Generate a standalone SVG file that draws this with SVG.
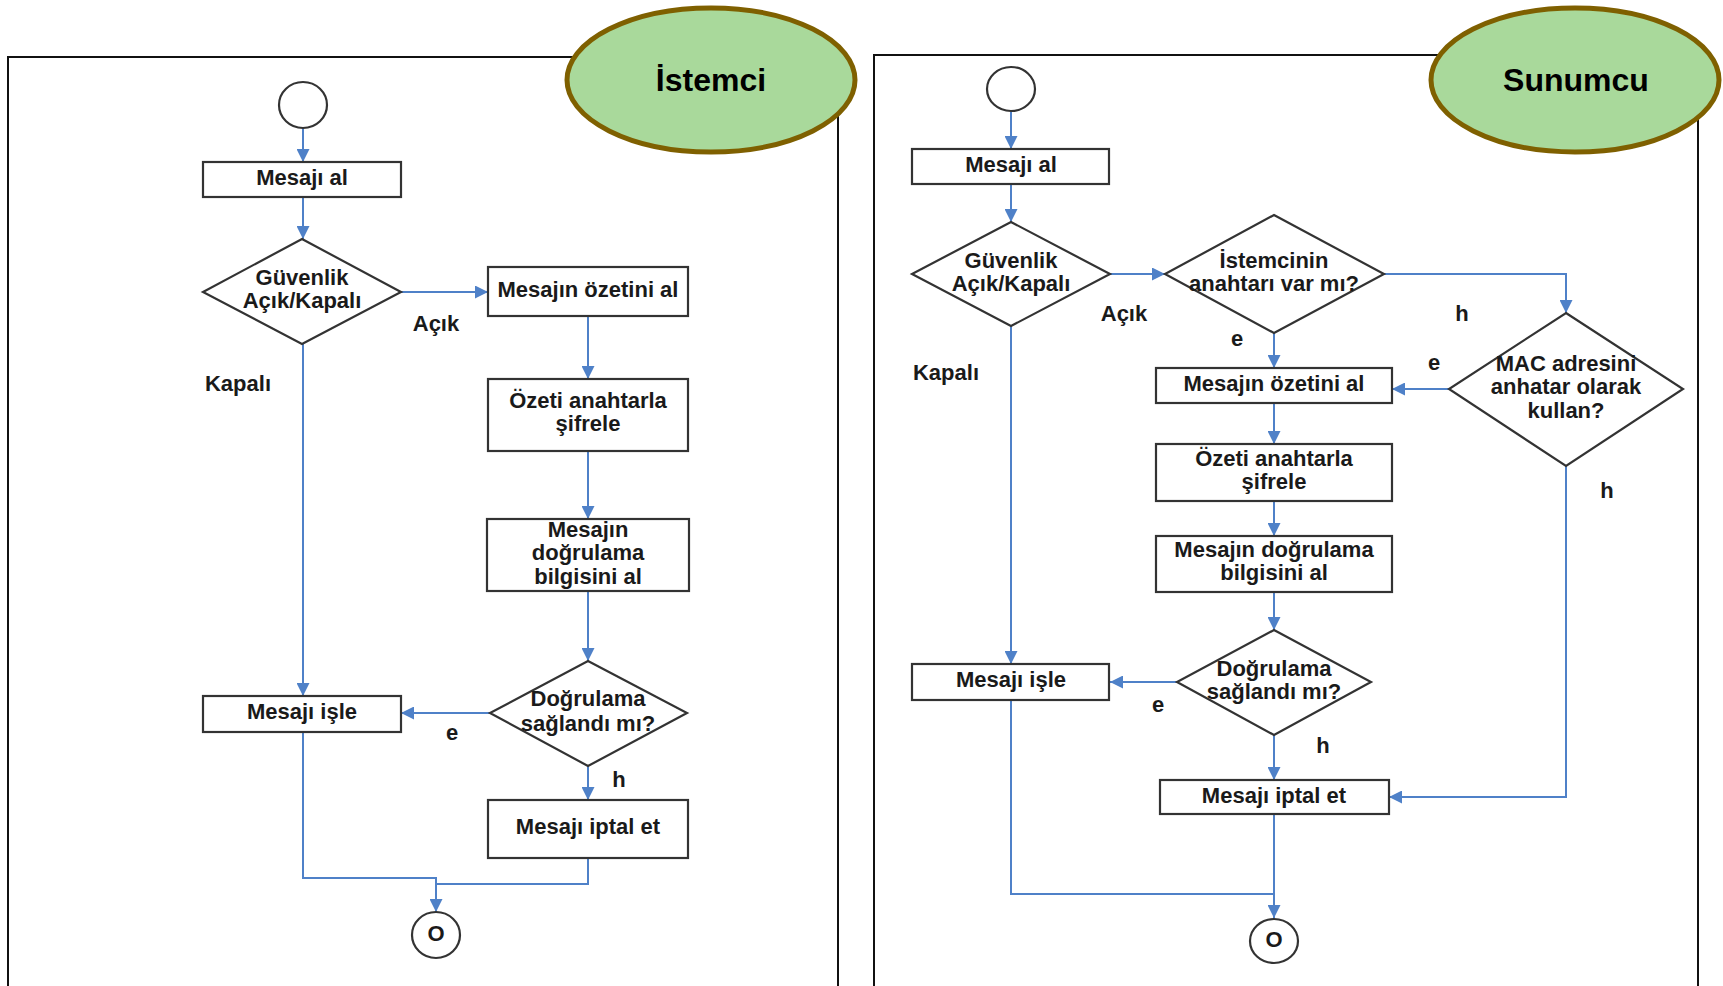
<svg xmlns="http://www.w3.org/2000/svg" width="1723" height="986" viewBox="0 0 1723 986">
<style>
.frame{fill:none;stroke:#111;stroke-width:2}
.lane{fill:#a9d99b;stroke:#7f6000;stroke-width:5}
.lanet{font-family:"Liberation Sans",Arial,sans-serif;font-weight:bold;font-size:32px;fill:#000;text-anchor:middle;dominant-baseline:central}
.shape{fill:#fff;stroke:#333;stroke-width:2.2}
.t{font-family:"Liberation Sans",Arial,sans-serif;font-weight:bold;font-size:22px;fill:#1a1a1a;text-anchor:middle;dominant-baseline:central;transform:translateY(-2px)}
.c{fill:none;stroke:#4f81c8;stroke-width:2}
.ca{fill:none;stroke:#4f81c8;stroke-width:2;marker-end:url(#ah)}
</style>
<defs>
<marker id="ah" viewBox="0 0 10 10" refX="10" refY="5" markerUnits="userSpaceOnUse" markerWidth="13" markerHeight="13" orient="auto">
<path d="M0,0 L10,5 L0,10 z" fill="#4f81c8"/>
</marker>
</defs>
<rect width="1723" height="986" fill="#fff"/>
<g id="frames">
<rect class="frame" x="8" y="57" width="830" height="930"/>
<rect class="frame" x="874" y="55" width="824" height="932"/>
</g>
<g id="connectors">
<line class="ca" x1="303" y1="128" x2="303" y2="162"/>
<line class="ca" x1="303" y1="197" x2="303" y2="239"/>
<line class="ca" x1="401" y1="292" x2="488" y2="292"/>
<line class="ca" x1="588" y1="316" x2="588" y2="379"/>
<line class="ca" x1="588" y1="451" x2="588" y2="519"/>
<line class="ca" x1="588" y1="591" x2="588" y2="661"/>
<line class="ca" x1="490" y1="713" x2="401" y2="713"/>
<line class="ca" x1="303" y1="344" x2="303" y2="696"/>
<line class="ca" x1="588" y1="766" x2="588" y2="800"/>
<polyline class="ca" points="303,732 303,878 436,878 436,912"/>
<polyline class="c" points="588,858 588,884 436,884"/>
<line class="ca" x1="1011" y1="112" x2="1011" y2="149"/>
<line class="ca" x1="1011" y1="184" x2="1011" y2="222"/>
<line class="ca" x1="1110" y1="274" x2="1165" y2="274"/>
<polyline class="ca" points="1384,274 1566,274 1566,313"/>
<line class="ca" x1="1274" y1="333" x2="1274" y2="368"/>
<line class="ca" x1="1449" y1="389" x2="1392" y2="389"/>
<line class="ca" x1="1274" y1="403" x2="1274" y2="444"/>
<line class="ca" x1="1274" y1="501" x2="1274" y2="536"/>
<line class="ca" x1="1274" y1="592" x2="1274" y2="630"/>
<line class="ca" x1="1177" y1="682" x2="1110" y2="682"/>
<line class="ca" x1="1011" y1="326" x2="1011" y2="664"/>
<line class="ca" x1="1274" y1="735" x2="1274" y2="780"/>
<polyline class="ca" points="1566,466 1566,797 1389,797"/>
<polyline class="c" points="1011,700 1011,894 1274,894"/>
<line class="ca" x1="1274" y1="814" x2="1274" y2="918"/>
</g>
<g id="labels">
<text class="t" x="436" y="325">Açık</text>
<text class="t" x="238" y="385">Kapalı</text>
<text class="t" x="452" y="734">e</text>
<text class="t" x="619" y="781">h</text>
<text class="t" x="1124" y="315">Açık</text>
<text class="t" x="946" y="374">Kapalı</text>
<text class="t" x="1237" y="340">e</text>
<text class="t" x="1462" y="315">h</text>
<text class="t" x="1434" y="364">e</text>
<text class="t" x="1607" y="492">h</text>
<text class="t" x="1158" y="706">e</text>
<text class="t" x="1323" y="747">h</text>
</g>
<g id="client-start"><ellipse class="shape" cx="303" cy="105" rx="24" ry="23"/></g>
<g id="client-receive"><rect class="shape" x="203" y="162" width="198" height="35"/><text class="t" x="302" y="179">Mesajı al</text></g>
<g id="client-security"><polygon class="shape" points="302,239 401,292 302,344 203,292"/><text class="t" x="302" y="279">Güvenlik</text><text class="t" x="302" y="302">Açık/Kapalı</text></g>
<g id="client-digest"><rect class="shape" x="488" y="267" width="200" height="49"/><text class="t" x="588" y="291">Mesajın özetini al</text></g>
<g id="client-encrypt"><rect class="shape" x="488" y="379" width="200" height="72"/><text class="t" x="588" y="402">Özeti anahtarla</text><text class="t" x="588" y="425">şifrele</text></g>
<g id="client-auth"><rect class="shape" x="487" y="519" width="202" height="72"/><text class="t" x="588" y="531">Mesajın</text><text class="t" x="588" y="554">doğrulama</text><text class="t" x="588" y="578">bilgisini al</text></g>
<g id="client-verify"><polygon class="shape" points="588,661 687,713 588,766 490,713"/><text class="t" x="588" y="700">Doğrulama</text><text class="t" x="588" y="725">sağlandı mı?</text></g>
<g id="client-process"><rect class="shape" x="203" y="696" width="198" height="36"/><text class="t" x="302" y="713">Mesajı işle</text></g>
<g id="client-cancel"><rect class="shape" x="488" y="800" width="200" height="58"/><text class="t" x="588" y="828">Mesajı iptal et</text></g>
<g id="client-end"><ellipse class="shape" cx="436" cy="935" rx="24" ry="23"/><text class="t" x="436" y="935">O</text></g>
<g id="client-lane"><ellipse class="lane" cx="711" cy="80" rx="144" ry="72"/><text class="lanet" x="711" y="80">İstemci</text></g>
<g id="server-start"><ellipse class="shape" cx="1011" cy="89" rx="24" ry="22"/></g>
<g id="server-receive"><rect class="shape" x="912" y="149" width="197" height="35"/><text class="t" x="1011" y="166">Mesajı al</text></g>
<g id="server-security"><polygon class="shape" points="1011,222 1110,274 1011,326 912,274"/><text class="t" x="1011" y="262">Güvenlik</text><text class="t" x="1011" y="285">Açık/Kapalı</text></g>
<g id="server-haskey"><polygon class="shape" points="1274,215 1384,274 1274,333 1165,274"/><text class="t" x="1274" y="262">İstemcinin</text><text class="t" x="1274" y="285">anahtarı var mı?</text></g>
<g id="server-mac"><polygon class="shape" points="1566,313 1683,389 1566,466 1449,389"/><text class="t" x="1566" y="365">MAC adresini</text><text class="t" x="1566" y="388">anhatar olarak</text><text class="t" x="1566" y="412">kullan?</text></g>
<g id="server-digest"><rect class="shape" x="1156" y="368" width="236" height="35"/><text class="t" x="1274" y="385">Mesajın özetini al</text></g>
<g id="server-encrypt"><rect class="shape" x="1156" y="444" width="236" height="57"/><text class="t" x="1274" y="460">Özeti anahtarla</text><text class="t" x="1274" y="483">şifrele</text></g>
<g id="server-auth"><rect class="shape" x="1156" y="536" width="236" height="56"/><text class="t" x="1274" y="551">Mesajın doğrulama</text><text class="t" x="1274" y="574">bilgisini al</text></g>
<g id="server-verify"><polygon class="shape" points="1274,630 1371,682 1274,735 1177,682"/><text class="t" x="1274" y="670">Doğrulama</text><text class="t" x="1274" y="693">sağlandı mı?</text></g>
<g id="server-process"><rect class="shape" x="912" y="664" width="197" height="36"/><text class="t" x="1011" y="681">Mesajı işle</text></g>
<g id="server-cancel"><rect class="shape" x="1160" y="780" width="229" height="34"/><text class="t" x="1274" y="797">Mesajı iptal et</text></g>
<g id="server-end"><ellipse class="shape" cx="1274" cy="941" rx="24" ry="22"/><text class="t" x="1274" y="941">O</text></g>
<g id="server-lane"><ellipse class="lane" cx="1575" cy="80" rx="144" ry="72"/><text class="lanet" x="1576" y="80">Sunumcu</text></g>
</svg>
